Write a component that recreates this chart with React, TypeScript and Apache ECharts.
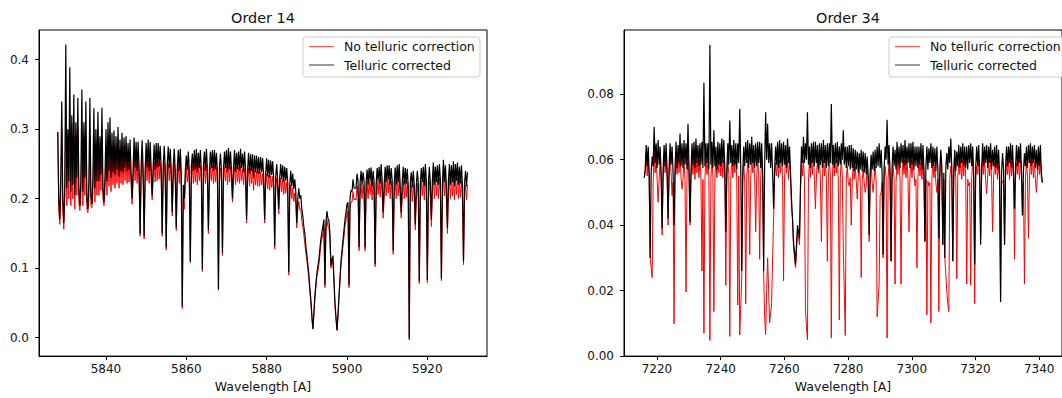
import React, { useEffect, useRef } from "react";
import * as echarts from "echarts";

const LEFT_TITLE = "Order 14";
const RIGHT_TITLE = "Order 34";
const X_LABEL = "Wavelength [A]";
const LEGEND_NAMES = ["No telluric correction", "Telluric corrected"];

const LEFT_START = 5828;
const LEFT_STEP = 0.5;
const RIGHT_START = 7216;
const RIGHT_STEP = 0.625;

const LEFT_X_TICKS = [5840, 5860, 5880, 5900, 5920];
const LEFT_Y_TICKS = [0, 0.1, 0.2, 0.3, 0.4];
const RIGHT_X_TICKS = [7220, 7240, 7260, 7280, 7300, 7320, 7340];
const RIGHT_Y_TICKS = [0, 0.02, 0.04, 0.06, 0.08];

// Order 14 flux (thousandths) on the main grid: noise crests and absorption lines
const LEFT_RED = [
  296, 163, 300, 156, 330, 270, 310, 280, 290, 270,
  300, 183, 295, 275, 290, 180, 285, 187, 280, 270,
  285, 265, 275, 190, 268, 272, 270, 262, 265, 262,
  268, 260, 262, 262, 260, 258, 258, 192, 260, 256,
  255, 146, 258, 142, 255, 256, 257, 198, 252, 255,
  255, 252, 146, 252, 126, 250, 250, 175, 250, 154,
  248, 250, 42, 185, 245, 248, 108, 248, 250, 250,
  248, 248, 95, 246, 250, 150, 245, 248, 248, 246,
  68, 244, 118, 246, 248, 248, 246, 195, 246, 246,
  245, 248, 243, 244, 165, 244, 244, 242, 240, 240,
  240, 238, 236, 165, 236, 234, 233, 232, 128, 230,
  178, 230, 228, 226, 224, 90, 220, 216, 208, 158,
  196, 185, 160, 135, 112, 85, 50, 12, 56, 88,
  105, 135, 150, 72, 170, 158, 100, 110, 46, 10,
  56, 104, 132, 160, 180, 72, 195, 210, 200, 218,
  125, 222, 220, 125, 225, 226, 226, 224, 102, 226,
  228, 230, 172, 228, 230, 230, 226, 120, 226, 230,
  230, 172, 226, 226, 224, 0, 220, 222, 155, 222,
  78, 225, 228, 230, 79, 226, 160, 232, 228, 228,
  230, 82, 235, 230, 150, 230, 228, 232, 230, 230,
  228, 226, 105, 220, 220,
];
// Order 14 red, half-step samples: noise troughs
const LEFT_RED_MID = [
  185, 200, 185, 195, 190, 200, 190, 200, 185, 205,
  195, 200, 190, 205, 185, 200, 190, 205, 195, 205,
  205, 212, 200, 208, 205, 218, 210, 220, 215, 222,
  215, 222, 220, 226, 222, 224, 220, 222, 226, 222,
  224, 228, 226, 222, 226, 222, 226, 228, 224, 226,
  228, 226, 228, 226, 230, 226, 224, 228, 222, 226,
  222, 215, 200, 220, 224, 220, 226, 222, 224, 220,
  226, 222, 226, 222, 224, 220, 226, 222, 224, 220,
  226, 222, 224, 226, 220, 224, 222, 226, 220, 224,
  222, 226, 220, 224, 222, 218, 222, 212, 220, 218,
  218, 220, 214, 218, 214, 212, 216, 210, 214, 208,
  212, 210, 206, 208, 204, 202, 200, 196, 192, 184,
  184, 168, 148, 122, 98, 66, 30, 32, 72, 95,
  118, 142, 158, 152, 160, 140, 105, 80, 28, 30,
  80, 118, 145, 168, 182, 186, 195, 198, 198, 205,
  202, 200, 205, 202, 200, 206, 198, 204, 200, 206,
  202, 206, 200, 204, 208, 200, 206, 202, 200, 204,
  198, 204, 200, 202, 198, 202, 196, 200, 198, 202,
  200, 204, 198, 206, 200, 202, 206, 200, 204, 200,
  206, 200, 204, 198, 206, 200, 204, 198, 206, 200,
  202, 198, 200, 198,
];

const LEFT_BLACK = [
  296, 170, 340, 165, 422, 300, 389, 320, 350, 310,
  345, 190, 357, 310, 340, 185, 345, 192, 330, 300,
  325, 290, 331, 195, 300, 310, 317, 295, 298, 290,
  303, 285, 295, 288, 290, 280, 285, 200, 288, 282,
  282, 150, 284, 146, 280, 285, 282, 205, 278, 280,
  280, 276, 150, 276, 130, 275, 272, 180, 272, 158,
  270, 272, 45, 200, 262, 268, 110, 265, 270, 272,
  266, 270, 98, 268, 272, 155, 268, 270, 270, 266,
  70, 265, 122, 268, 270, 273, 268, 200, 270, 266,
  268, 272, 265, 268, 170, 266, 264, 264, 262, 262,
  260, 260, 258, 170, 258, 256, 255, 254, 132, 250,
  185, 250, 248, 246, 244, 95, 240, 236, 228, 165,
  215, 205, 175, 150, 120, 92, 55, 13, 60, 92,
  112, 142, 160, 76, 182, 168, 104, 118, 50, 11,
  60, 110, 140, 170, 192, 76, 212, 228, 215, 236,
  130, 240, 238, 130, 242, 244, 245, 240, 106, 244,
  246, 250, 180, 246, 248, 248, 244, 125, 245, 248,
  250, 180, 246, 244, 243, -3, 238, 240, 163, 240,
  82, 244, 246, 250, 83, 246, 170, 252, 246, 248,
  250, 85, 256, 248, 158, 250, 248, 254, 250, 252,
  246, 248, 110, 240, 238,
];
const LEFT_BLACK_MID = [
  200, 230, 200, 220, 215, 225, 210, 220, 205, 230,
  215, 225, 210, 230, 200, 225, 205, 230, 215, 225,
  225, 235, 215, 230, 225, 240, 230, 238, 235, 242,
  232, 240, 238, 245, 240, 242, 238, 240, 245, 240,
  242, 246, 244, 240, 245, 240, 244, 246, 242, 245,
  246, 244, 246, 245, 248, 244, 242, 246, 240, 244,
  240, 235, 220, 240, 242, 238, 245, 240, 242, 238,
  244, 240, 245, 240, 242, 238, 244, 240, 242, 238,
  245, 240, 242, 244, 238, 242, 240, 244, 238, 242,
  240, 244, 238, 242, 240, 236, 240, 230, 238, 236,
  236, 238, 232, 236, 232, 230, 234, 228, 232, 226,
  230, 228, 224, 226, 222, 220, 218, 214, 210, 200,
  200, 185, 160, 132, 105, 72, 32, 35, 78, 103,
  128, 152, 170, 165, 172, 150, 112, 85, 30, 32,
  85, 125, 155, 180, 195, 200, 210, 215, 215, 225,
  222, 220, 225, 222, 220, 226, 218, 224, 220, 226,
  222, 226, 220, 224, 228, 220, 226, 222, 220, 224,
  218, 224, 220, 222, 218, 222, 216, 220, 218, 222,
  220, 224, 218, 226, 220, 222, 226, 220, 224, 220,
  226, 220, 224, 218, 226, 220, 224, 218, 226, 220,
  222, 218, 220, 218,
];

// Order 34 flux (ten-thousandths) on the main grid: noise crests and absorption lines
const RIGHT_RED = [
  545, 620, 610, 300, 240, 620, 600, 470, 600, 370,
  610, 605, 400, 610, 490, 99, 600, 610, 620, 510,
  600, 196, 620, 400, 600, 610, 610, 600, 600, 260,
  70, 610, 600, 48, 605, 136, 600, 600, 610, 610,
  600, 216, 600, 60, 610, 600, 605, 156, 65, 240,
  590, 160, 600, 310, 610, 600, 380, 605, 296, 600,
  250, 66, 300, 101, 160, 420, 590, 600, 600, 610,
  230, 600, 600, 605, 450, 330, 270, 380, 340, 600,
  600, 140, 50, 600, 600, 610, 450, 600, 600, 350,
  600, 605, 290, 600, 55, 610, 600, 600, 110, 605,
  330, 63, 580, 520, 400, 590, 580, 480, 590, 240,
  570, 500, 590, 350, 590, 500, 580, 120, 220, 500,
  300, 580, 55, 600, 290, 580, 220, 600, 605, 220,
  600, 600, 605, 380, 600, 600, 520, 270, 600, 590,
  600, 350, 126, 520, 101, 600, 580, 500, 136, 600,
  340, 300, 196, 136, 580, 290, 600, 236, 590, 600,
  600, 605, 220, 520, 216, 600, 160, 580, 600, 370,
  600, 600, 496, 600, 600, 380, 590, 600, 580, 165,
  530, 340, 590, 600, 600, 605, 296, 590, 600, 600,
  430, 220, 590, 360, 600, 605, 590, 500, 600, 600,
  530,
];
// Order 34 red, half-step samples: noise troughs
const RIGHT_RED_MID = [
  560, 550, 540, 270, 530, 560, 540, 540, 550, 540,
  560, 545, 550, 560, 530, 540, 555, 560, 545, 540,
  540, 550, 560, 545, 555, 540, 560, 545, 550, 540,
  540, 555, 545, 540, 550, 540, 545, 560, 550, 545,
  550, 540, 555, 540, 545, 560, 540, 550, 150, 540,
  530, 545, 555, 540, 560, 540, 545, 555, 540, 550,
  120, 200, 200, 130, 300, 540, 550, 545, 560, 540,
  545, 560, 540, 545, 420, 300, 320, 360, 500, 550,
  540, 90, 530, 545, 555, 540, 545, 560, 540, 545,
  550, 540, 545, 555, 540, 550, 560, 540, 545, 550,
  200, 540, 530, 545, 530, 540, 535, 545, 530, 540,
  530, 520, 535, 540, 530, 540, 535, 170, 490, 530,
  540, 545, 540, 550, 540, 545, 530, 555, 540, 545,
  555, 545, 540, 550, 545, 560, 540, 545, 550, 540,
  545, 540, 535, 530, 540, 545, 530, 540, 545, 550,
  540, 250, 160, 540, 550, 545, 540, 545, 555, 540,
  550, 545, 540, 530, 545, 540, 545, 555, 540, 550,
  555, 540, 545, 550, 540, 545, 555, 540, 545, 530,
  540, 545, 555, 540, 550, 545, 540, 555, 540, 550,
  530, 545, 550, 540, 555, 545, 540, 550, 555, 540,
];

const RIGHT_BLACK = [
  545, 645, 640, 300, 610, 700, 650, 660, 640, 390,
  645, 650, 420, 650, 640, 400, 655, 645, 680, 650,
  660, 650, 710, 410, 650, 655, 665, 645, 650, 655,
  835, 650, 650, 950, 655, 690, 640, 655, 650, 665,
  660, 380, 650, 720, 645, 660, 650, 650, 755, 260,
  640, 655, 660, 650, 670, 645, 650, 655, 655, 650,
  260, 745, 710, 650, 650, 450, 640, 655, 660, 650,
  655, 645, 665, 640, 480, 350, 280, 400, 360, 640,
  670, 650, 745, 640, 650, 655, 655, 645, 650, 650,
  660, 645, 650, 650, 770, 645, 650, 655, 640, 650,
  690, 640, 640, 645, 645, 635, 630, 625, 620, 630,
  625, 620, 610, 370, 615, 625, 630, 640, 650, 630,
  310, 640, 722, 645, 290, 640, 630, 655, 640, 650,
  645, 660, 640, 650, 650, 655, 640, 640, 640, 650,
  645, 350, 640, 635, 650, 640, 635, 640, 360, 630,
  340, 300, 620, 640, 665, 290, 630, 625, 645, 640,
  650, 640, 640, 645, 650, 640, 280, 640, 645, 340,
  650, 640, 645, 640, 650, 630, 640, 645, 630, 165,
  620, 340, 640, 640, 650, 645, 450, 645, 640, 650,
  430, 620, 640, 645, 650, 640, 645, 630, 640, 645,
  530,
];
const RIGHT_BLACK_MID = [
  570, 580, 560, 560, 580, 590, 575, 585, 560, 570,
  580, 570, 575, 585, 560, 580, 575, 590, 580, 575,
  585, 570, 580, 560, 585, 575, 590, 580, 585, 575,
  580, 590, 570, 585, 575, 580, 570, 585, 580, 590,
  575, 570, 585, 590, 580, 585, 570, 590, 575, 560,
  580, 590, 575, 585, 590, 575, 580, 590, 575, 560,
  580, 600, 590, 575, 560, 570, 585, 575, 590, 580,
  585, 575, 590, 560, 420, 320, 340, 380, 520, 590,
  590, 600, 585, 575, 590, 580, 590, 570, 585, 575,
  590, 575, 580, 590, 585, 575, 590, 580, 585, 600,
  585, 575, 580, 570, 575, 565, 570, 560, 570, 565,
  560, 555, 550, 560, 570, 565, 575, 580, 575, 560,
  570, 600, 585, 560, 575, 580, 570, 585, 575, 590,
  580, 585, 590, 575, 585, 570, 580, 575, 585, 570,
  575, 580, 570, 590, 575, 580, 565, 570, 575, 580,
  560, 575, 570, 590, 575, 570, 565, 580, 575, 590,
  580, 575, 570, 590, 580, 560, 575, 580, 570, 575,
  580, 590, 575, 590, 570, 580, 575, 570, 560, 560,
  570, 575, 580, 590, 575, 560, 575, 580, 590, 570,
  565, 580, 575, 590, 580, 590, 575, 570, 580, 560,
];

const FONT = "DejaVu Sans";

// Interleave main-grid samples with the half-step samples, in wavelength order.
function toPairs(main: number[], mid: number[], start: number, step: number, scale: number) {
  const out: number[][] = [];
  main.forEach((v, i) => {
    out.push([start + i * step, v / scale]);
    if (i < mid.length) out.push([start + (i + 0.5) * step, mid[i] / scale]);
  });
  return out;
}

function xAxisFor(gridIndex: number, min: number, max: number, ticks: number[]) {
  return {
    type: "value",
    gridIndex,
    min,
    max,
    splitLine: { show: false },
    axisLine: { show: true, onZero: false, lineStyle: { color: "#000", width: 1 } },
    axisTick: { show: true, length: 4, customValues: ticks, lineStyle: { color: "#000", width: 1 } },
    axisLabel: {
      customValues: ticks,
      fontSize: 12,
      fontFamily: FONT,
      color: "#111",
      margin: 7,
      formatter: (v: number) => String(Math.round(v)),
    },
    name: X_LABEL,
    nameLocation: "middle",
    nameGap: 23,
    nameTextStyle: { fontSize: 12.5, fontFamily: FONT, color: "#111" },
  };
}

function yAxisFor(gridIndex: number, min: number, max: number, ticks: number[], digits: number) {
  return {
    type: "value",
    gridIndex,
    min,
    max,
    splitLine: { show: false },
    axisLine: { show: true, onZero: false, lineStyle: { color: "#000", width: 1 } },
    axisTick: { show: true, length: 4, customValues: ticks, lineStyle: { color: "#000", width: 1 } },
    axisLabel: {
      customValues: ticks,
      fontSize: 12,
      fontFamily: FONT,
      color: "#111",
      margin: 10,
      formatter: (v: number) => v.toFixed(digits),
    },
  };
}

function legendGraphic(x: number) {
  return {
    type: "group",
    z: 100,
    children: [
      {
        type: "rect",
        shape: { x, y: 37, width: 177, height: 40, r: 3 },
        style: { fill: "rgba(255,255,255,0.85)", stroke: "#cccccc", lineWidth: 1 },
      },
      {
        type: "line",
        shape: { x1: x + 6, y1: 46.7, x2: x + 31, y2: 46.7 },
        style: { stroke: "#ff0000", lineWidth: 0.8 },
      },
      {
        type: "line",
        shape: { x1: x + 6, y1: 65, x2: x + 31, y2: 65 },
        style: { stroke: "#000000", lineWidth: 0.8 },
      },
      {
        type: "text",
        x: x + 41,
        y: 46.7,
        style: { text: LEGEND_NAMES[0], font: `12.5px "${FONT}"`, fill: "#111", textVerticalAlign: "middle" },
      },
      {
        type: "text",
        x: x + 41,
        y: 65,
        style: { text: LEGEND_NAMES[1], font: `12.5px "${FONT}"`, fill: "#111", textVerticalAlign: "middle" },
      },
    ],
  };
}

function titleGraphic(x: number, text: string) {
  return {
    type: "text",
    x,
    y: 17.5,
    z: 100,
    style: {
      text,
      font: `14.4px "${FONT}"`,
      fill: "#111",
      textAlign: "center",
      textVerticalAlign: "middle",
    },
  };
}

export default function App() {
  const ref = useRef<HTMLDivElement>(null);

  useEffect(() => {
    if (!ref.current) return;
    const chart = echarts.init(ref.current, undefined, { renderer: "svg" });
    const lineSeries = (name: string, data: number[][], color: string, idx: number, width: number) => ({
      type: "line",
      name,
      data,
      xAxisIndex: idx,
      yAxisIndex: idx,
      showSymbol: false,
      symbol: "none",
      clip: true,
      lineStyle: { color, width, join: "bevel" },
      emphasis: { disabled: true },
    });
    chart.setOption({
      animation: false,
      backgroundColor: "#ffffff",
      grid: [
        { left: 39, top: 30, width: 448, height: 330, show: true, borderColor: "#000", borderWidth: 1, backgroundColor: "transparent" },
        { left: 624, top: 30, width: 448, height: 330, show: true, borderColor: "#000", borderWidth: 1, backgroundColor: "transparent" },
      ],
      xAxis: [
        xAxisFor(0, 5823.33, 5934.85, LEFT_X_TICKS),
        xAxisFor(1, 7209.66, 7347.16, RIGHT_X_TICKS),
      ],
      yAxis: [
        yAxisFor(0, -0.0266, 0.4428, LEFT_Y_TICKS, 1),
        yAxisFor(1, 0, 0.09962, RIGHT_Y_TICKS, 2),
      ],
      series: [
        lineSeries(LEGEND_NAMES[0], toPairs(LEFT_RED, LEFT_RED_MID, LEFT_START, LEFT_STEP, 1000), "#ff0000", 0, 1.0),
        lineSeries(LEGEND_NAMES[1], toPairs(LEFT_BLACK, LEFT_BLACK_MID, LEFT_START, LEFT_STEP, 1000), "#000000", 0, 1.2),
        lineSeries(LEGEND_NAMES[0], toPairs(RIGHT_RED, RIGHT_RED_MID, RIGHT_START, RIGHT_STEP, 10000), "#ff0000", 1, 1.0),
        lineSeries(LEGEND_NAMES[1], toPairs(RIGHT_BLACK, RIGHT_BLACK_MID, RIGHT_START, RIGHT_STEP, 10000), "#000000", 1, 1.2),
      ],
      graphic: [
        titleGraphic(263, LEFT_TITLE),
        titleGraphic(848, RIGHT_TITLE),
        legendGraphic(303),
        legendGraphic(889),
      ],
    });
    return () => chart.dispose();
  }, []);

  return (
    <div
      ref={ref}
      style={{ position: "absolute", left: 0, top: 0, width: 1062, height: 398 }}
    />
  );
}
